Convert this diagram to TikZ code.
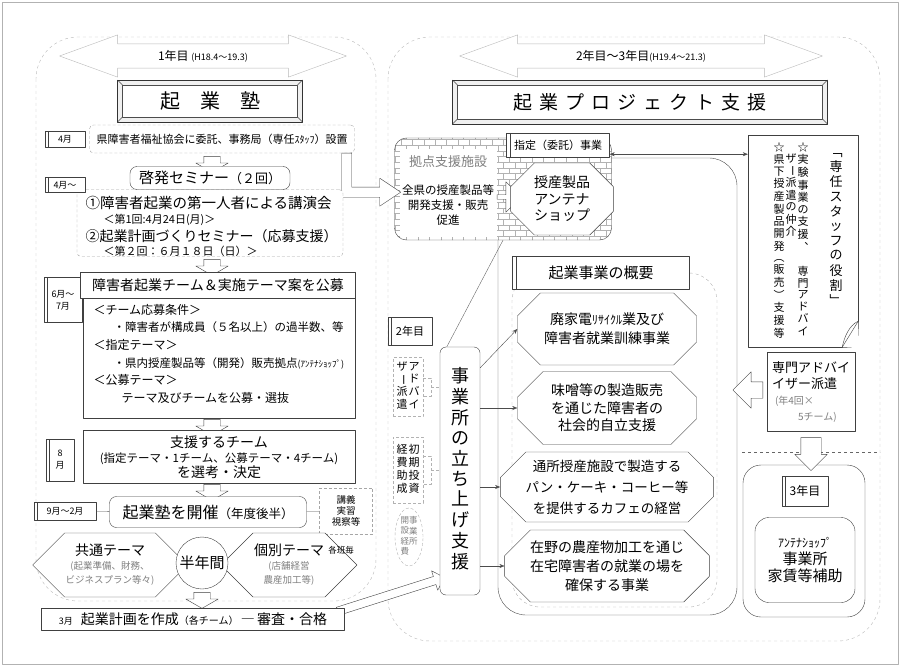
\documentclass[tikz,border=0pt]{standalone}
\usepackage{fontspec}
\setmainfont{Noto Sans CJK JP}
\usepackage{graphicx}
\usetikzlibrary{arrows.meta,shapes,patterns,positioning}
\newcommand\fsz[2]{\fontsize{#1}{#2}\selectfont}
\newcommand\vbar{\rotatebox[origin=c]{-90}{ー}}
\newcommand\kuuhaku{\mbox{}}
\makeatletter
\def\tate@end{\tate@end}
\newcommand\tate[1]{\gdef\tate@acc{}\tate@loop#1\tate@end
  \begin{tabular}[t]{@{}c@{}}\tate@acc\end{tabular}}
\def\tate@loop#1{\ifx\tate@end#1\else\g@addto@macro\tate@acc{#1\\}\expandafter\tate@loop\fi}
\makeatother
\tikzset{
  every picture/.style={line join=round, >=Stealth},
  region/.style={draw=gray!55, dashed, rounded corners=42pt},
  panel/.style={draw=black!75, fill=white, align=center, inner sep=2pt},
  roundpanel/.style={panel, rounded corners=7pt},
  dotpanel/.style={draw=gray!70, densely dashed, fill=white, rounded corners=4pt, inner sep=2pt},
  tag/.style={draw=black!75, fill=white, align=center, inner sep=1.5pt, font=\fsz{9}{11},
    path picture={\draw[black!75] ([xshift=3.5pt]path picture bounding box.north west) -- ([xshift=3.5pt]path picture bounding box.south west);}},
  bevel/.style={draw=black!80, line width=0.9pt, fill=gray!12,
    path picture={
      \draw[black!70, thin, fill=white] ([shift={(5pt,-5pt)}]path picture bounding box.north west) rectangle ([shift={(-5pt,5pt)}]path picture bounding box.south east);
      \draw[black!70, thin] (path picture bounding box.north west) -- ++(5pt,-5pt)
        (path picture bounding box.north east) -- ++(-5pt,-5pt)
        (path picture bounding box.south west) -- ++(5pt,5pt)
        (path picture bounding box.south east) -- ++(-5pt,5pt);}},
  downarrow/.style={single arrow, draw=black!75, fill=white, rotate=-90, minimum height=16pt, inner xsep=0pt, inner ysep=8pt, single arrow head extend=8pt, single arrow tip angle=120},
  yeararrow/.style={double arrow, draw=gray!55, fill=white, inner xsep=2pt, inner ysep=6pt, double arrow head extend=9pt, double arrow tip angle=40, font=\fsz{12}{14}},
  hexa/.style={signal, signal to=west and east, draw=black!75, fill=white, align=center, inner sep=1pt, font=\fsz{14}{14}},
  octa/.style={chamfered rectangle, chamfered rectangle xsep=22pt, draw=black!75, fill=white, align=center, minimum width=179pt, font=\fsz{14}{19}},
  conn/.style={draw=black!70, -{Stealth[length=5pt,width=4pt]}},
  vtbox/.style={draw=gray!60, densely dashed, inner sep=0pt, font=\fsz{11}{12.5}},
}
\begin{document}
\begin{tikzpicture}[x=1pt, y=-1pt]
\useasboundingbox (0,0) rectangle (900,666);
\draw[gray!60] (2,2) rectangle (898,664);
\draw[region] (36,37) rectangle (376,601);
\draw[region] (388,37) rectangle (880,641);

\node[yeararrow, minimum height=287pt] (yearOne) at (203,56) {1年目 {\fsz{9}{10}(H18.4～19.3)}};
\node[yeararrow, minimum height=363pt] (yearTwo) at (641,56) {2年目～3年目{\fsz{9}{10}(H19.4～21.3)}};
\node[bevel, minimum width=185pt, minimum height=42pt, font=\fsz{20}{22}] (jukuTitle) at (210,101) {起\hspace{20pt}業\hspace{20pt}塾};
\node[bevel, minimum width=375pt, minimum height=44pt, font=\fsz{19}{21}] (projTitle) at (640,102)
  {起\hspace{7pt}業\hspace{7pt}プ\hspace{7pt}ロ\hspace{7pt}ジ\hspace{7pt}ェ\hspace{7pt}ク\hspace{7pt}ト\hspace{7pt}支\hspace{7pt}援};

% project frame
\node[draw=black!70, rounded corners=28pt, minimum width=239pt, minimum height=457pt] (bizFrame) at (617.5,386.5) {};
\node[draw=gray!60, dashed, rounded corners=28pt, minimum width=205pt, minimum height=334pt] (bizInner) at (614.5,440) {};

% hub
\node[draw=black!75, rounded corners=12pt, minimum width=217pt, minimum height=102pt, pattern=bricks, pattern color=gray!60, preaction={fill=white}] (hubBox) at (503,189) {};
\node[fill=white, minimum width=97pt, minimum height=88pt, inner sep=0pt] (hubPanel) at (448,193) {};
\node[text=gray, font=\fsz{13}{15}] (hubName) at (448,162) {拠点支援施設};
\node[align=center, font=\fsz{11.5}{15}] (hubText) at (448,205) {全県の授産製品等\\開発支援・販売\\促進};
\node[single arrow, draw=black!75, fill=white, minimum height=24pt, inner xsep=0pt, inner ysep=2pt, single arrow head extend=13pt] (hubArrow) at (508,197) {};
\node[chamfered rectangle, chamfered rectangle xsep=20pt, draw=black!75, fill=white, minimum width=90pt, minimum height=72pt, align=center, font=\fsz{14}{16.5}] (shop) at (562,199) {授産製品\\アンテナ\\ショップ};
\node[tag, minimum width=103pt, minimum height=24pt, font=\fsz{11}{13}] (tagDesig) at (558,145) {指定（委託）事業};

% left column
\node[tag, minimum width=40pt, minimum height=16pt] (tagApr) at (65,139) {4月};
\node[dotpanel, minimum width=265pt, minimum height=28pt, font=\fsz{11}{13}] (officeBox) at (222,139) {県障害者福祉協会に委託、事務局（専任{\fsz{10}{12}ｽﾀｯﾌ}）設置};
\draw[black!75, fill=white] ([xshift=-13pt]officeBox.south east) -- ++(0,44) -- ++(38,0) -- ++(0,9) -- ++(21,-14) -- ++(-21,-14) -- ++(0,9) -- ++(-28,0) -- ++(0,-34) -- cycle;
\node[downarrow] (arrA) at (212,162) {};
\node[dotpanel, minimum width=266pt, minimum height=67pt] (seminarBody) at (210,223) {};
\node[roundpanel, minimum width=160pt, minimum height=23pt, font=\fsz{15}{17}] (seminarHead) at (210,178) {啓発セミナー{\fsz{13}{15}（２回）}};
\node[tag, minimum width=40pt, minimum height=15pt] (tagApr2) at (65,185) {4月～};
\node[anchor=west, font=\fsz{14.5}{16}] (lectureLine) at (82,203) {①障害者起業の第一人者による講演会};
\node[anchor=west, font=\fsz{11}{12}] (dateOne) at (100,220) {＜第1回:4月24日(月)＞};
\node[anchor=west, font=\fsz{14}{16}] (planLine) at (82,236) {②起業計画づくりセミナー（応募支援）};
\node[anchor=west, font=\fsz{11}{12}] (dateTwo) at (100,251) {＜第２回：６月１８日（日）＞};
\node[downarrow] (arrB) at (212,265) {};

\node[tag, minimum width=38pt, minimum height=45pt, font=\fsz{9}{12}] (tagJun) at (63,300) {6月～\\7月};
\node[panel, minimum width=272pt, minimum height=120pt] (recruitBody) at (219,358) {};
\node[panel, minimum width=275pt, minimum height=26pt, font=\fsz{14}{16}] (recruitHead) at (218,285) {障害者起業チーム＆実施テーマ案を公募};
\node[anchor=west, font=\fsz{12}{14}] (condHead) at (90,310) {＜チーム応募条件＞};
\node[anchor=west, font=\fsz{11.5}{14}] (condItem) at (110,327) {・障害者が構成員（５名以上）の過半数、等};
\node[anchor=west, font=\fsz{12}{14}] (desigHead) at (90,345) {＜指定テーマ＞};
\node[anchor=west, font=\fsz{11.5}{14}] (desigItem) at (110,363) {・県内授産製品等（開発）販売拠点{\fsz{9}{10}(ｱﾝﾃﾅｼｮｯﾌﾟ)}};
\node[anchor=west, font=\fsz{12}{14}] (pubHead) at (90,380) {＜公募テーマ＞};
\node[anchor=west, font=\fsz{12}{14}] (pubItem) at (118,398) {テーマ及びチームを公募・選抜};
\node[downarrow] (arrC) at (212,425) {};

\node[panel, minimum width=272pt, minimum height=53pt, font=\fsz{14}{15}] (teamBox) at (219,457)
  {支援するチーム\\{\fsz{11.5}{15}(指定テーマ・1チーム、公募テーマ・4チーム)}\\を選考・決定};
\node[tag, minimum width=28pt, minimum height=42pt, font=\fsz{9}{12}] (tagAug) at (60,460) {8\\月};
\node[downarrow] (arrD) at (212,490) {};

\node[roundpanel, minimum width=197pt, minimum height=31pt, font=\fsz{16}{18}] (openBox) at (208,512) {起業塾を開催{\fsz{12.5}{14}（年度後半）}};
\node[tag, minimum width=62pt, minimum height=18pt] (tagSep) at (65,511) {9月～2月};
\node[draw=gray!70, densely dashed, minimum width=53pt, minimum height=46pt, align=center, font=\fsz{9.5}{11}, inner sep=1pt] (lectureBox) at (346,511) {講義\\実習\\視察等};
\draw[black!70] (tagSep) -- (openBox);
\draw[black!70] (openBox) -- (lectureBox);

\node[hexa, minimum width=135pt, minimum height=64pt] (commonHex) at (110,565)
  {共通テーマ\\{\color{gray}\fsz{9.5}{12}(起業準備、財務、}\\{\color{gray}\fsz{9.5}{12}ビジネスプラン等々)}};
\node[hexa, minimum width=128pt, minimum height=64pt] (indivHex) at (289,565)
  {個別テーマ\\{\color{gray}\fsz{9.5}{12}(店舗経営}\\{\color{gray}\fsz{9.5}{12}農産加工等)}};
\node[circle, draw=black!75, fill=white, minimum size=52pt, inner sep=0pt, font=\fsz{15}{17}] (halfYear) at (202,563) {半年間};
\node[font=\fsz{8.5}{10}] (eachTeam) at (341,550) {各班毎};
\node[downarrow] (arrE) at (202,598) {};

\node[single arrow, draw=black!75, fill=white, minimum height=112pt, inner xsep=0pt, inner ysep=4pt, single arrow head extend=6pt, rotate=17.6] (bigArrow) at (389,595) {};
\node[panel, minimum width=303pt, minimum height=22pt, font=\fsz{14}{16}] (finalBox) at (193,619)
  {{\fsz{9}{10}3月}\hspace{8pt}起業計画を作成{\fsz{10}{11}（各チーム）}\,―\,審査・合格};

% start-up support
\node[roundpanel, rounded corners=6pt, minimum width=40pt, minimum height=248pt, inner sep=0pt, font=\fsz{18}{19.5}] (startBox) at (460,471) {\tate{事業所の立ち上げ支援}};
\node[tag, minimum width=44pt, minimum height=28pt, font=\fsz{11}{13}] (tagSecond) at (410,331) {2年目};
\node[vtbox, minimum width=30pt, minimum height=59pt] (advSmall) at (408,387) {\tate{ザ\vbar 派遣}\hspace{1pt}\tate{アドバイ}};
\node[vtbox, minimum width=30pt, minimum height=66pt] (fundBox) at (408,470) {\tate{経費助成}\hspace{1pt}\tate{初期投資}};
\node[vtbox, ellipse, minimum width=28pt, minimum height=58pt, text=gray, font=\fsz{8.5}{10}] (costEll) at (409,537) {\tate{開設経費}\tate{事業所}};
\draw[gray!60, densely dashed] ([yshift=9pt]advSmall.east) -- ++(8pt,0) |- ([yshift=-9pt]advSmall.east);
\draw[gray!60, densely dashed] (advSmall.east) ++(8pt,0) -- (startBox.west |- advSmall.east);
\draw[gray!60, densely dashed] ([yshift=14pt]fundBox.east) -- ++(8pt,0) |- ([yshift=-14pt]fundBox.east);
\draw[gray!60, densely dashed] (fundBox.east) ++(8pt,0) -- (startBox.west |- fundBox.east);
\draw[black!60] ([xshift=7pt]startBox.north west) -- (hubBox.south);

\node[tag, minimum width=177pt, minimum height=33pt, font=\fsz{15}{17}] (tagOverview) at (601,273) {起業事業の概要};
\node[octa, minimum height=72pt] (oct1) at (607,329) {廃家電{\fsz{12}{14}ﾘｻｲｸﾙ}業及び\\障害者就業訓練事業};
\node[octa, minimum height=73pt, font=\fsz{14}{17.5}] (oct2) at (607,408) {味噌等の製造販売\\を通じた障害者の\\社会的自立支援};
\node[octa, minimum height=70pt, font=\fsz{13.5}{21}] (oct3) at (607,487) {通所授産施設で製造する\\パン・ケーキ・コーヒー等\\を提供するカフェの経営};
\node[octa, minimum height=72pt] (oct4) at (607,566) {在野の農産物加工を通じ\\在宅障害者の就業の場を\\確保する事業};
\draw[conn] ([yshift=-21pt]startBox.north east) -- (oct1.west);
\foreach \k in {2,3,4} \draw[conn] (startBox.east |- oct\k.west) -- (oct\k.west);

% staff and year 3
\node[draw=black!75, fill=white, minimum width=110pt, minimum height=212pt] (staffBox) at (803,241) {};
\fill[white] ([yshift=26pt]staffBox.south east) -- ([shift={(1pt,-1pt)}]staffBox.south east) -- ([xshift=-16pt]staffBox.south east) -- cycle;
\draw[black!75] ([yshift=26pt]staffBox.south east) -- ([xshift=-16pt]staffBox.south east);
\draw[black!75] ([yshift=26pt]staffBox.south east) .. controls +(-9pt,-4pt) and +(2pt,10pt) .. ([xshift=-16pt]staffBox.south east);
\node[anchor=north, inner sep=0pt, font=\fsz{13}{14.5}] (staffTitle) at (836,146) {\tate{﹁専任スタッフの役割﹂}};
\node[anchor=north, inner sep=0pt, font=\fsz{11}{11.4}] (staffItemA) at (803,142) {\tate{☆実験事業の支援︑\kuuhaku 専門アドバイ}};
\node[anchor=north, inner sep=0pt, font=\fsz{11}{11.4}] (staffItemB) at (791,142) {\tate{\kuuhaku ザ\vbar 派遣の仲介}};
\node[anchor=north, inner sep=0pt, font=\fsz{11}{11.4}] (staffItemC) at (779,142) {\tate{☆県下授産製品開発︵販売︶支援等}};
\draw[<->, black!70, >={Stealth[length=5pt,width=4pt]}] ([yshift=3pt]tagDesig.south east) -- ([yshift=3pt]tagDesig.south east -| staffBox.west);

\node[panel, minimum width=88pt, minimum height=79pt, font=\fsz{13}{16}, align=left] (advisorBox) at (811,392)
  {専門アドバイ\\イザー派遣\\{\color{gray}\fsz{10}{12}\hspace{3pt}(年4回×}\\{\color{gray}\fsz{10}{12}\hspace{26pt}5チーム)}};
\node[single arrow, draw=black!75, fill=white, rotate=180, minimum height=30pt, inner xsep=0pt, inner ysep=8pt, single arrow head extend=10pt] (advArrow) at (752,390) {};
\draw[black!60, dashed] (742,452) -- (880,452);
\node[draw=black!75, fill=white, rounded corners=18pt, minimum width=122pt, minimum height=152pt] (thirdBox) at (804,541) {};
\node[single arrow, draw=black!75, fill=white, rotate=-90, minimum height=33pt, inner xsep=0pt, inner ysep=10pt, single arrow head extend=6pt] (advDown) at (811,449) {};
\node[tag, minimum width=46pt, minimum height=30pt, font=\fsz{12}{14}] (tagThird) at (805,491) {3年目};
\node[roundpanel, rounded corners=14pt, minimum width=100pt, minimum height=85pt, font=\fsz{15}{17}] (rentBox) at (805,560) {{\fsz{12}{14}ｱﾝﾃﾅｼｮｯﾌﾟ}\\事業所\\家賃等補助};
\end{tikzpicture}
\end{document}
